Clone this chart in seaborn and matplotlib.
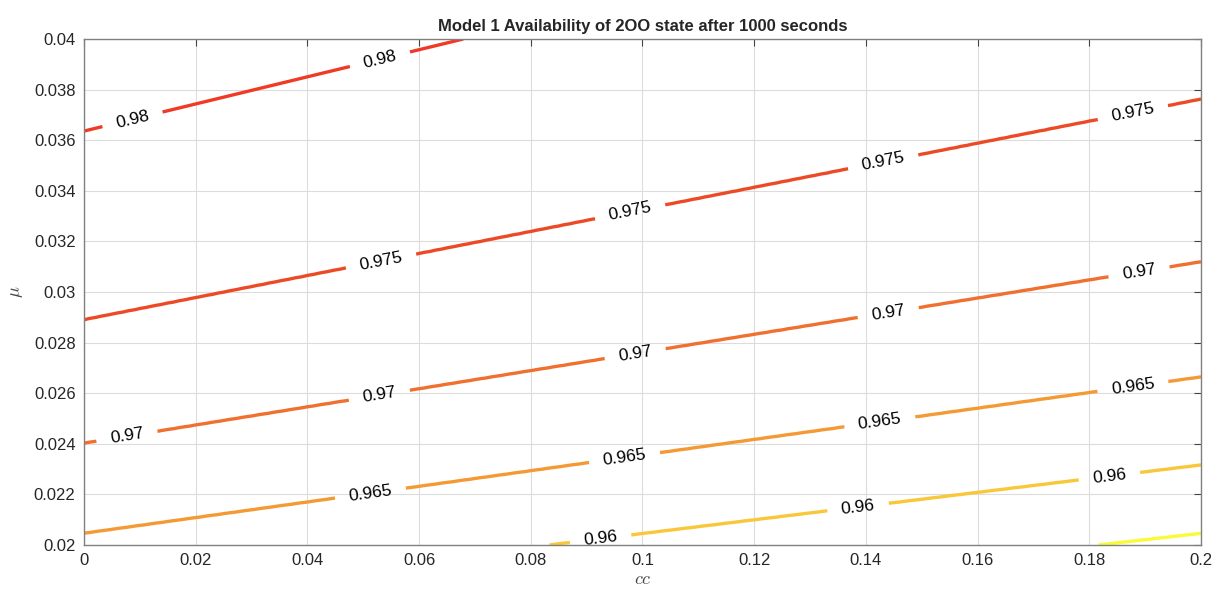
import numpy as np
import matplotlib
matplotlib.use("Agg")
import matplotlib.pyplot as plt
import matplotlib.ticker as mticker
import seaborn as sns

# contour levels and where each line sits (mu at cc=0 and at cc=0.2)
levels = [0.955, 0.96, 0.965, 0.97, 0.975, 0.98]
mu_at_0 = [0.01546, 0.01774, 0.02046, 0.02402, 0.02890, 0.03636]
mu_at_02 = [0.02046, 0.02316, 0.02664, 0.03119, 0.03762, 0.04708]

# where the inline labels sit along cc
label_cc = {
    0.96: [0.0925, 0.1386, 0.1836],
    0.965: [0.0513, 0.0968, 0.1425, 0.1878],
    0.97: [0.0077, 0.0529, 0.0987, 0.1440, 0.1889],
    0.975: [0.0532, 0.0978, 0.1431, 0.1878],
    0.98: [0.0087, 0.0530],
}

line_colors = ["#fafa3a", "#f8c83a", "#f49a35", "#f07030", "#ec4a26", "#f03a25"]

sns.set_style("white")
plt.rcParams['font.family'] = ['Liberation Sans', 'DejaVu Sans']
plt.rcParams['mathtext.fontset'] = 'cm'

lev = np.array(levels)
m0 = np.array(mu_at_0)
m1 = np.array(mu_at_02)


def line_mu(c):
    return m0 + (m1 - m0) * c / 0.2


# build a field whose contours are those lines
cc = np.linspace(0, 0.2, 201)
mu = np.linspace(0.02, 0.04, 201)
Z = np.zeros((len(mu), len(cc)))
for j, c in enumerate(cc):
    pos = line_mu(c)
    col = np.interp(mu, pos, lev)
    lo = mu < pos[0]
    hi = mu > pos[-1]
    col[lo] = lev[0] + (mu[lo] - pos[0]) * (lev[1] - lev[0]) / (pos[1] - pos[0])
    col[hi] = lev[-1] + (mu[hi] - pos[-1]) * (lev[-1] - lev[-2]) / (pos[-1] - pos[-2])
    Z[:, j] = col

fig = plt.figure(figsize=(12.16, 5.9), dpi=100)
ax = fig.add_axes([0.069, 0.0763, 0.9187, 0.8576])

cs = ax.contour(cc, mu, Z, levels=levels, colors=line_colors, linewidths=2.4)

manual = []
for lv, cs_list in label_cc.items():
    i = levels.index(lv)
    for c in cs_list:
        manual.append((c, line_mu(c)[i]))
ax.clabel(cs, inline=True, fontsize=12.5, colors='black', fmt='%g',
          manual=manual, inline_spacing=14)

ax.set_xlim(0, 0.2)
ax.set_ylim(0.02, 0.04)
ax.set_xticks(np.arange(0, 0.2001, 0.02))
ax.set_yticks(np.arange(0.02, 0.04001, 0.002))
ax.xaxis.set_major_formatter(mticker.FormatStrFormatter('%g'))
ax.yaxis.set_major_formatter(mticker.FuncFormatter(lambda v, p: f"{round(v, 4):g}"))
ax.grid(True, color='#dcdcdc', linewidth=0.8)
ax.set_axisbelow(True)
ax.tick_params(direction='in', top=True, right=True, length=5, width=0.8,
               colors='#444444', labelcolor='#262626', labelsize=12, pad=6)
for s in ax.spines.values():
    s.set_color('#808080')
    s.set_linewidth(1)

ax.set_title('Model 1 Availability of 2OO state after 1000 seconds',
             fontsize=12, fontweight='bold', pad=6)
ax.set_xlabel(r'$cc$', fontsize=13, labelpad=2, color='#444444')
ax.set_ylabel(r'$\mu$', fontsize=13, labelpad=6, color='#444444')

fig.savefig('out.png', dpi=100)
